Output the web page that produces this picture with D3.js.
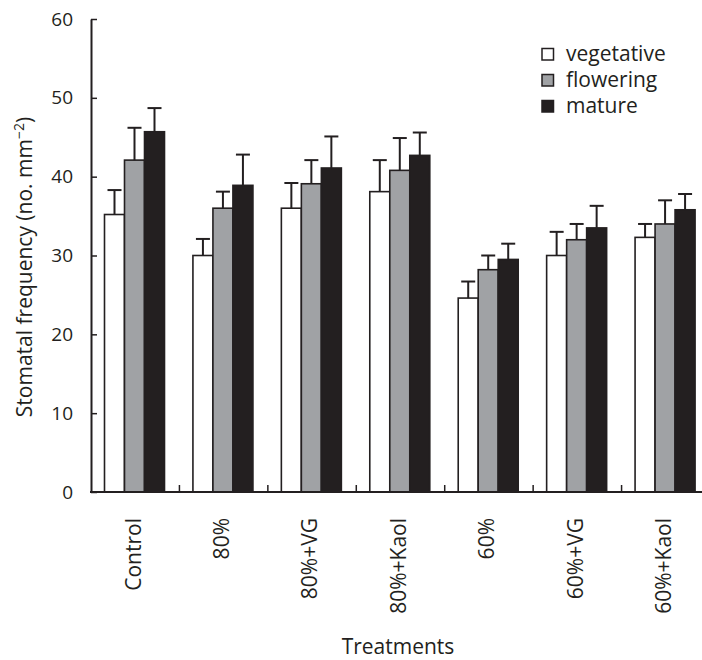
<!DOCTYPE html>
<html>
<head>
<meta charset="utf-8">
<script src="https://cdn.jsdelivr.net/npm/d3@7"></script>
<style>
  body { margin: 0; background: #fff; }
  text { font-family: "Open Sans", sans-serif; fill: #231f20; }
</style>
</head>
<body>
<div id="chart"></div>
<script>
// treatments on the x axis
var treatments = ["Control", "80%", "80%+VG", "80%+Kaol", "60%", "60%+VG", "60%+Kaol"];
var stages = ["vegetative", "flowering", "mature"];

// mean stomatal frequency per stage, one value per treatment
var vegetative = [35.2, 30.0, 36.0, 38.1, 24.6, 30.0, 32.3];
var flowering  = [42.1, 36.0, 39.1, 40.8, 28.2, 32.0, 34.0];
var mature     = [45.7, 38.9, 41.1, 42.7, 29.5, 33.5, 35.8];

// top of the error bar (mean + error)
var vegetativeErr = [38.3, 32.1, 39.2, 42.1, 26.7, 33.0, 34.0];
var floweringErr  = [46.2, 38.1, 42.1, 44.9, 30.0, 34.0, 37.0];
var matureErr     = [48.7, 42.8, 45.1, 45.6, 31.5, 36.3, 37.8];

var yTicks = [0, 10, 20, 30, 40, 50, 60];

var colors = { vegetative: "#ffffff", flowering: "#a0a2a5", mature: "#231f20" };
var ink = "#231f20";

var means = { vegetative: vegetative, flowering: flowering, mature: mature };
var errs = { vegetative: vegetativeErr, flowering: floweringErr, mature: matureErr };

var data = [];
treatments.forEach(function(t, i) {
    stages.forEach(function(s) {
        data.push({ treatment: t, stage: s, value: means[s][i], err: errs[s][i] });
    });
});

var width = 702, height = 660;

var svg = d3.select("#chart")
    .append("svg")
    .attr("width", width)
    .attr("height", height);

var x0 = d3.scaleBand()
    .domain(treatments)
    .range([91, 710])
    .padding(0);

var x1 = d3.scaleBand()
    .domain(stages)
    .range([13.5, 73.5])
    .padding(0);

var y = d3.scaleLinear()
    .domain([0, 60])
    .range([492, 19]);

// bars
svg.append("g")
    .selectAll("rect")
    .data(data)
    .enter()
    .append("rect")
    .attr("x", function(d) { return x0(d.treatment) + x1(d.stage); })
    .attr("y", function(d) { return y(d.value); })
    .attr("width", x1.bandwidth())
    .attr("height", function(d) { return y(0) - y(d.value); })
    .attr("fill", function(d) { return colors[d.stage]; })
    .attr("stroke", ink)
    .attr("stroke-width", 1.6);

// error bars, upper side only
var eb = svg.append("g")
    .attr("stroke", ink)
    .attr("stroke-width", 2)
    .selectAll("g")
    .data(data)
    .enter()
    .append("g");

eb.append("line")
    .attr("x1", function(d) { return x0(d.treatment) + x1(d.stage) + x1.bandwidth() / 2; })
    .attr("x2", function(d) { return x0(d.treatment) + x1(d.stage) + x1.bandwidth() / 2; })
    .attr("y1", function(d) { return y(d.value); })
    .attr("y2", function(d) { return y(d.err); });

eb.append("line")
    .attr("x1", function(d) { return x0(d.treatment) + x1(d.stage) + x1.bandwidth() / 2 - 7; })
    .attr("x2", function(d) { return x0(d.treatment) + x1(d.stage) + x1.bandwidth() / 2 + 7; })
    .attr("y1", function(d) { return y(d.err); })
    .attr("y2", function(d) { return y(d.err); });

// y axis
var yAxis = svg.append("g")
    .attr("transform", "translate(91,0)")
    .call(d3.axisLeft(y).tickValues(yTicks).tickSizeInner(-6).tickSizeOuter(0).tickPadding(18));
yAxis.select(".domain").attr("stroke", ink).attr("stroke-width", 2);
yAxis.selectAll(".tick line").attr("stroke", ink).attr("stroke-width", 1.5);
yAxis.selectAll(".tick text")
    .attr("font-size", "19px")
    .attr("font-family", "Open Sans, sans-serif")
    .attr("fill", ink);

// x axis line with boundary ticks
svg.append("line")
    .attr("x1", 90).attr("x2", width)
    .attr("y1", y(0)).attr("y2", y(0))
    .attr("stroke", ink).attr("stroke-width", 2);

svg.append("g")
    .selectAll("line")
    .data(treatments.slice(1))
    .enter()
    .append("line")
    .attr("x1", function(d) { return x0(d); })
    .attr("x2", function(d) { return x0(d); })
    .attr("y1", y(0))
    .attr("y2", y(0) - 7)
    .attr("stroke", ink)
    .attr("stroke-width", 1.5);

// category labels
svg.append("g")
    .selectAll("text")
    .data(treatments)
    .enter()
    .append("text")
    .attr("transform", function(d) {
        return "translate(" + (x0(d) + x0.bandwidth() / 2 - 2) + ",518) rotate(-90)";
    })
    .attr("text-anchor", "end")
    .attr("dy", "0.35em")
    .attr("font-size", "21px")
    .text(function(d) { return d; });

// axis titles
svg.append("text")
    .attr("x", 398)
    .attr("y", 654)
    .attr("text-anchor", "middle")
    .attr("font-size", "21px")
    .text("Treatments");

var yTitle = svg.append("text")
    .attr("transform", "translate(32,267) rotate(-90)")
    .attr("text-anchor", "middle")
    .attr("font-size", "21px");
yTitle.append("tspan").text("Stomatal frequency (no. mm");
yTitle.append("tspan").attr("font-size", "14px").attr("dy", "-8").text("\u22122");
yTitle.append("tspan").attr("dy", "8").text(")");

// legend
var legend = svg.append("g")
    .selectAll("g")
    .data(stages)
    .enter()
    .append("g")
    .attr("transform", function(d, i) { return "translate(542," + (48.5 + i * 26) + ")"; });

legend.append("rect")
    .attr("width", 11.5)
    .attr("height", 11.5)
    .attr("fill", function(d) { return colors[d]; })
    .attr("stroke", ink)
    .attr("stroke-width", 1.5);

legend.append("text")
    .attr("x", 24)
    .attr("y", 12)
    .attr("font-size", "21px")
    .text(function(d) { return d; });
</script>
</body>
</html>
